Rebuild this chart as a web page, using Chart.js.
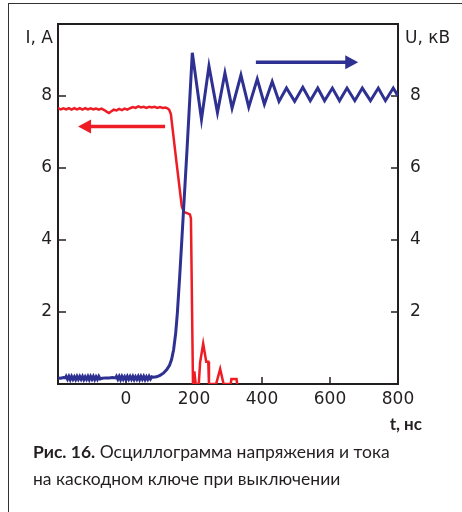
<!DOCTYPE html>
<html>
<head>
<meta charset="utf-8">
<script src="https://cdn.jsdelivr.net/npm/chart.js@4/dist/chart.umd.min.js"></script>
<style>
  html, body { margin: 0; padding: 0; background: #fff; }
  #wrap { position: relative; width: 462px; height: 512px; overflow: hidden; }
  #frame { position: absolute; left: 8px; top: 3px; right: -4px; bottom: -4px;
           border-left: 1.5px solid #333; border-top: 1.5px solid #333; }
  #chart { position: absolute; left: 0; top: 0; }
  #caption { position: absolute; left: 33px; top: 438px; width: 425px;
             font: 17.5px Lato, sans-serif; line-height: 27px; color: #231f20; }
  #caption b { font-weight: 700; }
</style>
</head>
<body>
<div id="wrap">
  <div id="frame"></div>
  <canvas id="chart" width="462" height="512"></canvas>
  <div id="caption"><b>Рис. 16.</b> Осциллограмма напряжения и тока<br>на каскодном ключе при выключении</div>
</div>
<script>
// ток I, А (левая ось)
var tI = [-200, -192, -184, -176, -168, -160, -152, -144, -136, -128, -120, -112, -104, -96, -88, -80, -72, -64,
  -56, -50, -44, -36, -28, -20, -12, -4, 4, 12, 20, 28, 36, 44, 52, 60, 68, 76, 84, 92, 100, 108, 116, 122,
  127, 132, 148, 164, 170, 188, 191, 197, 199, 201, 205, 214, 218, 227, 236, 242, 244, 265, 277, 287, 308, 310, 325, 327];
var I = [7.66, 7.63, 7.66, 7.63, 7.66, 7.62, 7.66, 7.63, 7.66, 7.62, 7.66, 7.63, 7.66, 7.63, 7.65, 7.62, 7.65, 7.61,
  7.56, 7.53, 7.57, 7.62, 7.60, 7.64, 7.61, 7.65, 7.62, 7.66, 7.69, 7.67, 7.71, 7.68, 7.70, 7.67, 7.70, 7.68, 7.70, 7.67, 7.69, 7.67, 7.68, 7.66,
  7.62, 7.50, 6.2, 4.94, 4.78, 4.71, 4.6, 0, 0, 0.35, 0, 0, 0.6, 1.12, 0.62, 0.62, 0, 0, 0.42, 0, 0, 0.14, 0.14, 0];

// напряжение U, кВ (правая ось)
var tU = [-200, -192, -184, -178,
  -176, -172, -168, -164, -160, -156, -152, -148, -144, -140, -136, -132, -128, -124, -120, -116, -112, -108, -104, -100, -96, -92, -88, -84, -80, -76,
  -70, -60, -50, -40, -30,
  -28, -24, -20, -16, -12, -8, -4, 0, 4, 8, 12, 16, 20, 24, 28, 32, 36, 40, 44, 48, 52, 56, 60, 64, 68, 72, 76,
  80, 90, 100, 110, 120, 128, 134, 140, 146, 151, 158, 164, 180, 195,
  222, 244, 269, 291, 312, 338, 361, 386, 407, 430, 450, 472, 496, 520, 542, 564, 584, 607, 628, 650, 673, 695, 719, 742, 763, 786, 800];
var U = [0.17, 0.16, 0.18, 0.17,
  0.21, 0.13, 0.21, 0.12, 0.21, 0.13, 0.20, 0.12, 0.21, 0.13, 0.21, 0.13, 0.21, 0.12, 0.20, 0.13, 0.21, 0.12, 0.21, 0.13, 0.21, 0.12, 0.20, 0.13, 0.21, 0.14,
  0.16, 0.17, 0.17, 0.18, 0.17,
  0.21, 0.13, 0.21, 0.12, 0.21, 0.13, 0.20, 0.12, 0.21, 0.13, 0.21, 0.13, 0.21, 0.12, 0.20, 0.13, 0.21, 0.12, 0.21, 0.13, 0.21, 0.12, 0.20, 0.13, 0.21, 0.14, 0.20,
  0.19, 0.20, 0.24, 0.30, 0.40, 0.52, 0.68, 0.95, 1.40, 1.96, 3.0, 3.97, 6.6, 9.2,
  7.35, 8.83, 7.54, 8.64, 7.66, 8.58, 7.69, 8.47, 7.77, 8.40, 7.85, 8.22, 7.85, 8.24, 7.87, 8.22, 7.87, 8.22, 7.87, 8.22, 7.87, 8.22, 7.87, 8.22, 7.87, 8.22, 8.0];

var xTicks = [0, 200, 400, 600, 800];
var yTicks = [2, 4, 6, 8];

// стрелки: [t1, t2, значение, ось, цвет]
var arrows = [
  [115, -141, 7.15, 'yL', '#ee1c25'],
  [382, 683, 8.94, 'yR', '#2e3192']
];

var RED = '#ee1c25', BLUE = '#2e3192', INK = '#231f20';

function pts(xs, ys) {
  return xs.map(function (x, i) { return { x: x, y: ys[i] }; });
}

var frame = {
  id: 'frame',
  beforeDatasetsDraw: function (chart) {
    var c = chart.ctx, a = chart.chartArea, s = chart.scales;
    c.save();
    c.strokeStyle = INK;
    c.lineWidth = 1.5;
    c.beginPath();
    xTicks.forEach(function (v) {
      var x = s.x.getPixelForValue(v);
      c.moveTo(x, a.bottom); c.lineTo(x, a.bottom - 7);
    });
    yTicks.forEach(function (v) {
      var y = s.yL.getPixelForValue(v);
      c.moveTo(a.left, y); c.lineTo(a.left + 8, y);
      y = s.yR.getPixelForValue(v);
      c.moveTo(a.right, y); c.lineTo(a.right - 7, y);
    });
    c.stroke();
    c.lineWidth = 2;
    c.strokeRect(a.left, a.top, a.right - a.left, a.bottom - a.top);
    c.restore();
  },
  afterDraw: function (chart) {
    var c = chart.ctx, s = chart.scales;
    c.save();
    arrows.forEach(function (ar) {
      var x1 = s.x.getPixelForValue(ar[0]), x2 = s.x.getPixelForValue(ar[1]);
      var y = s[ar[3]].getPixelForValue(ar[2]);
      var dir = x2 > x1 ? 1 : -1;
      c.strokeStyle = ar[4]; c.fillStyle = ar[4];
      c.lineWidth = 3.5;
      c.beginPath(); c.moveTo(x1, y); c.lineTo(x2 - dir * 10, y); c.stroke();
      c.beginPath(); c.moveTo(x2, y); c.lineTo(x2 - dir * 13, y - 7); c.lineTo(x2 - dir * 13, y + 7); c.closePath(); c.fill();
    });
    c.fillStyle = INK;
    c.font = '17px "DejaVu Sans"';
    c.textBaseline = 'alphabetic';
    c.textAlign = 'right';
    c.fillText('I, A', 53, 43);
    c.textAlign = 'left';
    c.fillText('U, кВ', 405, 43);
    c.textAlign = 'right';
    c.font = 'bold 17px Lato';
    c.fillText('t, нс', 422, 430);
    c.restore();
  }
};

function yAxis(pos, width, pad) {
  return {
    type: 'linear', position: pos, min: 0, max: 10,
    grid: { display: false, drawTicks: false },
    border: { display: false },
    ticks: {
      stepSize: 2, padding: pad, color: INK,
      font: { family: 'DejaVu Sans', size: 17 },
      callback: function (v) { return yTicks.indexOf(v) >= 0 ? v : ''; }
    },
    afterFit: function (sc) { sc.width = width; }
  };
}

new Chart(document.getElementById('chart'), {
  type: 'line',
  data: {
    datasets: [
      { data: pts(tU, U), yAxisID: 'yR', borderColor: BLUE, borderWidth: 3, pointRadius: 0, tension: 0 },
      { data: pts(tI, I), yAxisID: 'yL', borderColor: RED, borderWidth: 2.5, pointRadius: 0, tension: 0 }
    ]
  },
  options: {
    responsive: false,
    animation: false,
    layout: { padding: { top: 24, left: 0, right: 0, bottom: 0 } },
    plugins: { legend: { display: false }, tooltip: { enabled: false } },
    scales: {
      x: {
        type: 'linear', min: -200, max: 800,
        grid: { display: false, drawTicks: false },
        border: { display: false },
        ticks: {
          stepSize: 200, padding: 5, color: INK, maxRotation: 0,
          font: { family: 'DejaVu Sans', size: 17 },
          callback: function (v) { return xTicks.indexOf(v) >= 0 ? v : ''; }
        },
        afterFit: function (sc) { sc.height = 128; }
      },
      yL: yAxis('left', 58, 6),
      yR: yAxis('right', 64, 12)
    }
  },
  plugins: [frame]
});
</script>
</body>
</html>
